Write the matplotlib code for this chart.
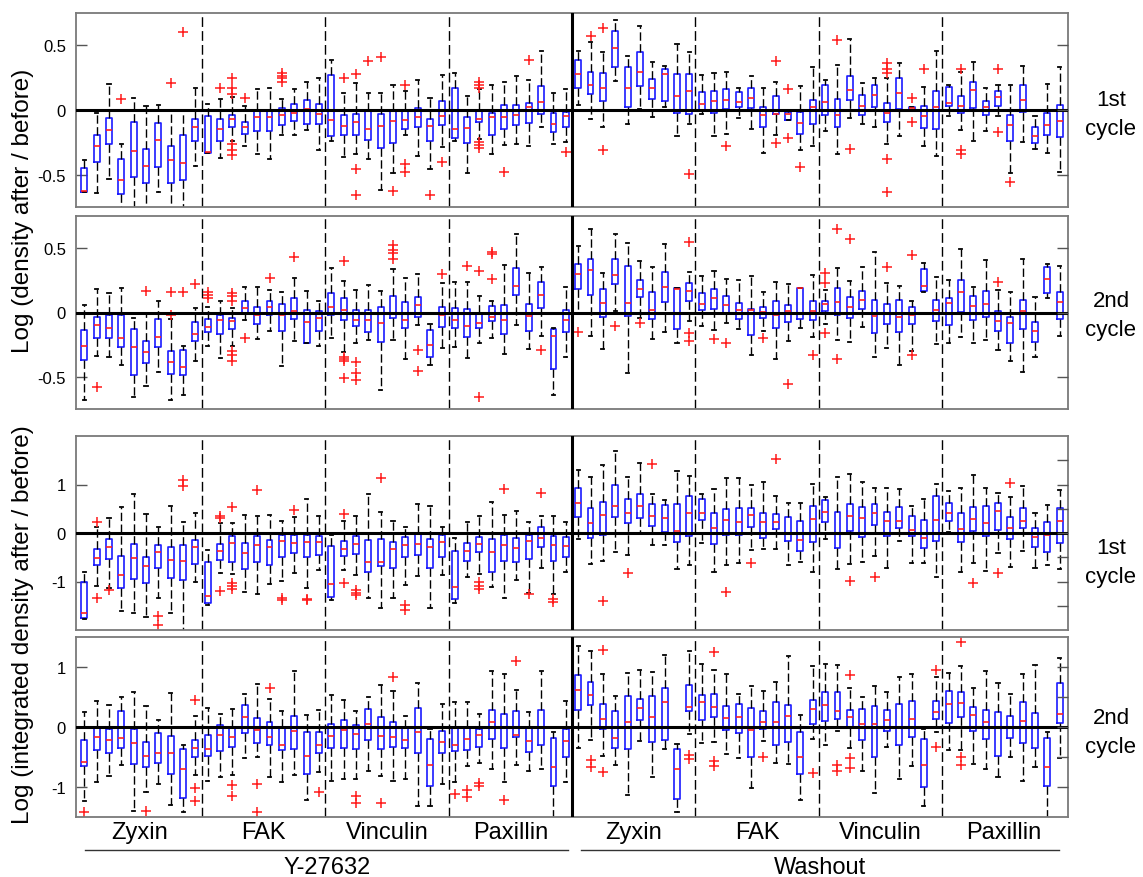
import matplotlib
matplotlib.use("Agg")
import matplotlib.pyplot as plt
import matplotlib.transforms as mtransforms
from matplotlib.lines import Line2D

plt.rcParams['font.family'] = ['Liberation Sans', 'DejaVu Sans']
plt.rcParams['axes.unicode_minus'] = False

# ---------------- data: each panel, 80 boxes (positions 1..80) ----------------
GROUPS = ["Zyxin", "FAK", "Vinculin", "Paxillin"]
CONDITIONS = ["Y-27632", "Washout"]
YLABELS = ["Log (density after / before)", "Log (integrated density after / before)"]
CYCLE_LABELS = ["1st\ncycle", "2nd\ncycle", "1st\ncycle", "2nd\ncycle"]

# Panel 1: density, 1st cycle
P1_WLO = [-0.635, -0.64, -0.53, -0.80, -0.80, -0.78, -0.635, -0.78, -0.78, -0.43,
          -0.33, -0.37, -0.24, -0.28, -0.337, -0.38, -0.19, -0.19, -0.158, -0.31,
          -0.237, -0.36, -0.34, -0.378, -0.615, -0.485, -0.19, -0.355, -0.454, -0.286,
          -0.24, -0.485, -0.224, -0.34, -0.27, -0.265, -0.28, -0.13, -0.265, -0.245,
          0.04, -0.066, -0.128, 0.222, -0.107, 0.01, -0.056, 0.026, -0.204, -0.112,
          -0.03, -0.2, -0.186, -0.059, -0.145, -0.33, -0.19, -0.08, -0.31, -0.28,
          -0.163, -0.34, -0.06, -0.105, -0.135, -0.263, -0.2, -0.005, -0.276, -0.352,
          -0.05, -0.158, -0.24, -0.16, -0.05, -0.485, -0.247, -0.304, -0.33, -0.48]
P1_Q1 = [-0.635, -0.40, -0.263, -0.648, -0.52, -0.566, -0.44, -0.566, -0.54, -0.237,
         -0.33, -0.24, -0.13, -0.186, -0.163, -0.163, -0.117, -0.087, -0.107, -0.11,
         -0.2, -0.19, -0.19, -0.235, -0.29, -0.255, -0.145, -0.135, -0.242, -0.115,
         -0.22, -0.255, -0.094, -0.194, -0.148, -0.117, -0.097, -0.028, -0.168, -0.135,
         0.168, 0.122, 0.066, 0.33, 0.023, 0.186, 0.087, 0.069, -0.026, -0.03,
         0.0, -0.02, 0.01, 0.023, 0.013, -0.133, -0.03, -0.077, -0.186, -0.107,
         -0.038, -0.13, 0.079, -0.036, 0.02, -0.094, 0.008, -0.005, -0.138, -0.145,
         0.033, -0.02, 0.018, -0.036, 0.033, -0.242, -0.015, -0.253, -0.196, -0.207]
P1_MED = [-0.63, -0.28, -0.156, -0.54, -0.314, -0.436, -0.235, -0.385, -0.41, -0.135,
          -0.324, -0.15, -0.07, -0.135, -0.054, -0.054, -0.04, -0.026, 0.01, -0.028,
          -0.08, -0.125, -0.09, -0.145, -0.125, -0.084, -0.08, -0.056, -0.122, -0.046,
          -0.15, -0.143, -0.066, -0.056, -0.054, -0.036, 0.02, 0.061, -0.11, -0.048,
          0.278, 0.191, 0.171, 0.48, 0.168, 0.29, 0.168, 0.278, 0.105, 0.145,
          0.043, 0.066, 0.077, 0.064, 0.089, -0.038, -0.03, -0.03, -0.1, 0.02,
          0.064, -0.04, 0.153, 0.033, 0.115, -0.023, 0.128, 0.018, -0.043, 0.023,
          0.051, 0.033, 0.156, 0.02, 0.1, -0.117, 0.077, -0.2, -0.117, -0.084]
P1_Q3 = [-0.45, -0.19, -0.064, -0.375, -0.094, -0.30, -0.097, -0.28, -0.19, -0.07,
         -0.043, -0.07, -0.036, -0.094, -0.008, -0.01, 0.015, 0.048, 0.074, 0.043,
         0.27, -0.036, -0.028, -0.008, -0.033, -0.008, -0.01, 0.013, -0.07, 0.069,
         0.173, -0.056, -0.01, -0.026, 0.036, 0.036, 0.051, 0.184, -0.023, -0.018,
         0.388, 0.296, 0.286, 0.607, 0.334, 0.449, 0.24, 0.314, 0.278, 0.28,
         0.138, 0.15, 0.163, 0.138, 0.171, 0.02, 0.105, -0.018, -0.018, 0.077,
         0.194, 0.082, 0.265, 0.115, 0.196, 0.054, 0.25, 0.026, 0.028, 0.145,
         0.181, 0.11, 0.217, 0.069, 0.148, -0.04, 0.196, -0.13, -0.026, 0.038]
P1_WHI = [-0.39, -0.026, 0.20, -0.265, 0.094, 0.03, 0.036, 0.0, 0.0, 0.17,
          0.048, 0.087, 0.10, 0.03, 0.166, 0.173, 0.087, 0.16, 0.22, 0.247,
          0.39, 0.13, 0.21, 0.135, 0.135, 0.19, 0.15, 0.23, 0.092, 0.273,
          0.283, 0.107, 0.16, 0.19, 0.22, 0.26, 0.235, 0.46, 0.135, 0.16,
          0.457, 0.528, 0.449, 0.694, 0.42, 0.65, 0.375, 0.342, 0.51, 0.446,
          0.27, 0.288, 0.293, 0.173, 0.26, 0.173, 0.22, 0.0, 0.189, 0.33,
          0.232, 0.347, 0.546, 0.21, 0.247, 0.247, 0.362, 0.026, 0.176, 0.457,
          0.194, 0.293, 0.372, 0.168, 0.19, 0.196, 0.34, -0.048, 0.2, 0.334]
P1_OUT = {4: [0.087], 8: [0.21], 9: [0.60], 12: [0.17],
          13: [0.25, 0.17, 0.12, -0.265, -0.31, -0.35], 14: [0.094],
          17: [0.286, 0.265, 0.247, 0.22], 22: [0.25], 23: [0.28, -0.46, -0.66],
          24: [0.38], 25: [0.406], 26: [-0.63], 27: [0.194, -0.42, -0.48],
          29: [-0.655], 30: [-0.40], 33: [0.22, 0.194, 0.168, -0.245, -0.27, -0.296],
          35: [-0.48], 37: [0.383], 40: [-0.327], 42: [0.574], 43: [0.633, -0.309],
          50: [-0.497], 53: [-0.278], 57: [0.378, -0.255], 58: [0.166, -0.217],
          59: [-0.44], 62: [0.54], 63: [-0.30], 66: [0.367, 0.316, 0.286, -0.38, -0.635],
          68: [0.089, -0.092], 69: [0.319], 72: [0.314, -0.306, -0.34],
          75: [0.319, -0.17], 76: [-0.56]}

# Panel 2: density, 2nd cycle
P2_WLO = [-0.68, -0.337, -0.348, -0.41, -0.657, -0.57, -0.46, -0.68, -0.64, -0.38,
          -0.26, -0.353, -0.26, -0.057, -0.205, -0.143, -0.413, -0.218, -0.236, -0.257,
          -0.197, -0.31, -0.24, -0.21, -0.605, -0.21, -0.363, -0.1, -0.41, -0.278,
          -0.265, -0.35, -0.234, -0.2, -0.32, -0.1, -0.286, -0.18, -0.64, -0.345,
          0.0, -0.184, -0.286, 0.01, -0.467, -0.04, -0.208, -0.148, -0.24, -0.067,
          -0.104, -0.135, -0.078, -0.13, -0.332, -0.14, -0.358, -0.22, -0.122, -0.19,
          -0.093, -0.215, -0.228, -0.112, -0.348, -0.278, -0.405, -0.3, 0.16, -0.244,
          -0.234, -0.187, -0.234, -0.213, -0.29, -0.376, -0.46, -0.348, 0.114, -0.182]
P2_Q1 = [-0.37, -0.195, -0.2, -0.27, -0.488, -0.395, -0.265, -0.478, -0.488, -0.223,
         -0.15, -0.164, -0.125, -0.013, -0.09, -0.023, -0.14, -0.054, -0.236, -0.145,
         -0.023, -0.06, -0.106, -0.15, -0.228, -0.04, -0.12, -0.036, -0.348, -0.109,
         -0.12, -0.187, -0.12, -0.067, -0.164, 0.135, -0.14, 0.036, -0.44, -0.153,
         0.18, 0.138, -0.036, 0.218, -0.03, 0.117, -0.05, 0.078, -0.132, 0.093,
         0.018, 0.031, -0.013, -0.052, -0.171, -0.04, -0.122, -0.075, -0.047, -0.06,
         0.01, -0.023, -0.044, 0.031, -0.156, -0.091, -0.15, -0.093, 0.164, -0.065,
         -0.099, 0.005, -0.057, -0.034, -0.14, -0.24, -0.13, -0.226, 0.15, -0.047]
P2_MED = [-0.26, -0.1, -0.122, -0.2, -0.265, -0.306, -0.19, -0.387, -0.426, -0.164,
          -0.114, -0.057, -0.067, 0.034, -0.02, 0.044, -0.023, 0.013, -0.07, -0.04,
          0.04, 0.016, -0.055, -0.055, -0.078, -0.003, -0.055, 0.06, -0.25, -0.023,
          -0.062, -0.104, -0.08, -0.036, -0.055, 0.205, -0.03, 0.138, -0.18, -0.055,
          0.296, 0.327, 0.07, 0.288, 0.07, 0.184, 0.023, 0.2, 0.185, 0.164,
          0.067, 0.114, 0.055, 0.021, 0.018, 0.003, -0.023, 0.01, 0.19, 0.01,
          0.065, 0.083, 0.044, 0.099, -0.029, -0.003, -0.036, -0.021, 0.205, 0.021,
          0.075, 0.156, 0.052, 0.067, -0.067, -0.08, 0.008, -0.14, 0.262, 0.083]
P2_Q3 = [-0.138, -0.034, -0.023, -0.023, -0.13, -0.22, -0.05, -0.3, -0.293, -0.075,
         -0.047, -0.023, -0.04, 0.088, 0.04, 0.09, 0.067, 0.11, 0.02, 0.008,
         0.148, 0.109, 0.02, 0.02, 0.04, 0.13, 0.078, 0.122, -0.138, 0.044,
         0.036, 0.029, -0.003, 0.047, 0.062, 0.343, 0.067, 0.239, -0.13, 0.023,
         0.38, 0.415, 0.18, 0.413, 0.363, 0.252, 0.158, 0.312, 0.187, 0.228,
         0.153, 0.182, 0.125, 0.075, 0.026, 0.044, 0.09, 0.06, 0.192, 0.088,
         0.088, 0.192, 0.12, 0.169, 0.099, 0.067, 0.096, 0.044, 0.34, 0.101,
         0.114, 0.254, 0.125, 0.164, 0.01, -0.036, 0.099, -0.073, 0.35, 0.158]
P2_WHI = [0.055, 0.18, 0.148, 0.19, -0.04, 0.0, 0.088, -0.05, -0.26, 0.036,
          0.04, 0.088, 0.036, 0.197, 0.2, 0.174, 0.156, 0.27, 0.166, 0.088,
          0.343, 0.247, 0.174, 0.215, 0.169, 0.337, 0.265, 0.296, -0.086, 0.23,
          0.239, 0.234, 0.125, 0.093, 0.366, 0.613, 0.306, 0.353, -0.12, 0.197,
          0.517, 0.646, 0.306, 0.613, 0.543, 0.4, 0.353, 0.532, 0.187, 0.312,
          0.28, 0.322, 0.257, 0.252, 0.286, 0.158, 0.234, 0.223, 0.192, 0.29,
          0.176, 0.348, 0.244, 0.356, 0.472, 0.228, 0.208, 0.093, 0.387, 0.275,
          0.254, 0.493, 0.202, 0.408, 0.177, 0.156, 0.418, 0.122, 0.38, 0.363]
P2_OUT = {2: [-0.58], 6: [0.169], 8: [0.158, -0.02], 9: [0.158], 10: [0.223],
          11: [0.158, 0.135, 0.11], 13: [0.15, 0.125, 0.088, -0.296, -0.327, -0.374],
          14: [-0.2], 16: [0.27], 18: [0.434],
          22: [0.397, -0.343, -0.358, -0.38, -0.51], 23: [-0.384, -0.472, -0.524],
          26: [0.524, 0.488, 0.46, 0.418], 28: [-0.288, -0.457], 30: [0.296],
          32: [0.358], 33: [0.32, -0.66], 34: [0.467, 0.457, 0.257], 38: [-0.288],
          41: [-0.15], 44: [-0.106], 46: [-0.08], 50: [0.545, -0.156, -0.223],
          52: [-0.205], 53: [-0.24], 56: [-0.2], 58: [-0.553], 60: [-0.327],
          61: [0.306, 0.23, -0.16], 62: [0.652, -0.358], 63: [0.574], 66: [0.356],
          68: [0.444, -0.327], 75: [0.236]}

# Panel 3: integrated density, 1st cycle
P3_WLO = [-1.78, -1.095, -1.13, -1.615, -1.65, -1.74, -1.348, -1.65, -2.1, -1.02,
          -1.485, -0.828, -0.849, -1.225, -1.266, -1.06, -0.99, -0.82, -1.143, -0.76,
          -1.376, -0.773, -0.856, -1.335, -1.54, -1.335, -1.08, -0.89, -1.547, -0.862,
          -1.437, -0.91, -0.849, -1.116, -1.342, -0.979, -1.23, -0.719, -1.253, -0.801,
          -0.13, -0.63, -0.582, -0.39, -0.452, -0.02, -0.253, -0.253, -0.739, -0.65,
          -0.2, -0.794, -0.65, -0.623, -0.356, -0.329, -0.329, -0.657, -0.589, -0.794,
          -0.123, -0.732, -0.637, -0.602, -0.472, -0.719, -0.157, -0.609, -0.616, -0.897,
          0.014, -0.808, -0.623, -0.78, -0.41, -0.698, -0.363, -0.725, -0.664, -0.732]
P3_Q1 = [-1.76, -0.664, -0.527, -1.143, -0.951, -1.027, -0.712, -0.938, -0.965, -0.643,
         -1.437, -0.548, -0.602, -0.732, -0.595, -0.65, -0.493, -0.418, -0.493, -0.445,
         -1.314, -0.479, -0.431, -0.794, -0.684, -0.712, -0.5, -0.445, -0.712, -0.493,
         -1.355, -0.568, -0.383, -0.801, -0.582, -0.595, -0.527, -0.287, -0.575, -0.5,
         0.335, -0.096, -0.034, 0.322, 0.205, 0.315, 0.15, 0.02, -0.192, -0.055,
         0.26, -0.233, -0.048, -0.048, 0.116, -0.096, 0.075, -0.157, -0.37, -0.192,
         0.219, -0.3, 0.034, -0.082, 0.157, -0.055, 0.11, -0.062, -0.315, -0.171,
         0.253, -0.178, 0.048, -0.055, 0.062, -0.116, 0.096, -0.28, -0.383, -0.212]
P3_MED = [-1.656, -0.506, -0.287, -0.862, -0.513, -0.684, -0.397, -0.561, -0.575, -0.287,
          -1.3, -0.363, -0.2, -0.418, -0.246, -0.287, -0.164, -0.2, -0.178, -0.178,
          -1.054, -0.329, -0.219, -0.602, -0.589, -0.322, -0.24, -0.219, -0.287, -0.192,
          -1.116, -0.376, -0.219, -0.397, -0.246, -0.301, -0.157, -0.103, -0.253, -0.274,
          0.609, 0.212, 0.376, 0.548, 0.417, 0.561, 0.356, 0.3, 0.048, 0.41,
          0.417, 0.103, 0.267, 0.219, 0.376, 0.226, 0.219, 0.0, -0.144, 0.287,
          0.431, -0.02, 0.349, 0.308, 0.417, 0.246, 0.253, 0.062, -0.11, 0.274,
          0.41, 0.089, 0.28, 0.2, 0.459, 0.11, 0.246, -0.082, -0.034, 0.246]
P3_Q3 = [-1.006, -0.335, -0.116, -0.472, -0.219, -0.486, -0.253, -0.28, -0.253, -0.137,
         -0.595, -0.233, -0.068, -0.205, -0.068, -0.137, -0.041, -0.041, -0.034, -0.055,
         -0.267, -0.164, -0.055, -0.151, -0.116, -0.192, -0.075, -0.02, -0.123, -0.034,
         -0.363, -0.205, -0.075, -0.123, -0.048, -0.103, -0.034, 0.13, -0.062, -0.082,
         0.931, 0.513, 0.63, 0.992, 0.705, 0.8, 0.595, 0.568, 0.602, 0.76,
         0.691, 0.417, 0.5, 0.52, 0.52, 0.41, 0.39, 0.335, 0.246, 0.548,
         0.678, 0.431, 0.595, 0.527, 0.595, 0.424, 0.534, 0.349, 0.267, 0.76,
         0.616, 0.41, 0.54, 0.554, 0.616, 0.335, 0.513, 0.103, 0.226, 0.52]
P3_WHI = [-0.794, 0.13, 0.315, 0.527, 0.814, 0.383, 0.123, 0.561, 0.226, 0.41,
          -0.356, 0.205, 0.205, 0.376, 0.356, 0.363, 0.246, 0.328, 0.705, 0.356,
          -0.034, 0.246, 0.356, 0.814, 0.424, 0.253, 0.12, 0.6, 0.548, 0.123,
          -0.11, 0.226, 0.356, 0.637, 0.363, 0.459, 0.233, 0.342, 0.342, 0.226,
          1.3, 1.164, 1.41, 1.684, 1.15, 1.437, 0.8, 0.684, 1.28, 1.177,
          0.8, 0.91, 1.136, 1.143, 0.986, 1.054, 0.76, 0.623, 0.609, 1.006,
          0.732, 1.157, 1.21, 1.06, 0.938, 0.931, 0.917, 0.554, 0.705, 1.006,
          0.862, 0.931, 1.19, 0.938, 0.828, 0.746, 0.972, 0.417, 0.582, 0.89]
P3_OUT = {2: [0.22, -1.34], 3: [-1.18], 7: [-1.71, -1.9], 9: [1.095, 0.972],
          12: [0.356, 0.3, -1.2], 13: [0.534, -1.03, -1.1, -1.16], 15: [0.883],
          17: [-1.335, -1.38], 18: [0.472], 19: [-1.36, -1.39], 22: [0.397, -1.04],
          23: [-1.18, -1.23, -1.27], 25: [1.13], 27: [-1.485, -1.59],
          33: [-1.013, -1.095, -1.16], 35: [0.917], 37: [-1.266], 38: [0.821],
          39: [-1.355, -1.43], 43: [-1.396], 45: [-0.815], 47: [1.43], 53: [-1.225],
          55: [-0.623], 57: [1.52], 63: [-0.986], 65: [-0.897], 73: [-1.04],
          75: [-0.828], 76: [1.034]}

# Panel 4: integrated density, 2nd cycle
P4_WLO = [-1.228, -0.922, -0.817, -0.633, -1.394, -1.078, -0.956, -1.294, -1.411, -0.8,
          -0.894, -0.828, -0.794, -0.522, -0.506, -0.839, -0.917, -0.8, -1.217, -0.75,
          -0.894, -0.861, -0.872, -0.739, -0.811, -0.894, -0.867, -1.311, -1.311, -0.95,
          -0.922, -0.656, -0.594, -0.694, -0.911, -0.639, -0.728, -0.694, -1.55, -0.922,
          -0.35, -0.211, -0.483, -0.628, -1.139, -0.233, -0.828, -0.367, -1.422, -0.122,
          -0.272, -0.244, -0.45, -0.522, -1.011, -0.228, -0.6, -0.617, -1.217, -0.2,
          -0.294, -0.072, -0.356, -0.739, -1.106, -0.333, -0.867, -0.65, -1.322, -0.089,
          -0.378, -0.378, -0.617, -0.694, -0.839, -0.506, -0.894, -0.672, -1.55, -0.522]
P4_Q1 = [-0.65, -0.383, -0.428, -0.35, -0.617, -0.672, -0.6, -0.783, -1.189, -0.494,
         -0.483, -0.394, -0.328, -0.094, -0.261, -0.3, -0.378, -0.361, -0.778, -0.433,
         -0.344, -0.356, -0.361, -0.217, -0.372, -0.333, -0.344, -0.428, -0.989, -0.439,
         -0.406, -0.389, -0.339, -0.2, -0.35, -0.161, -0.411, -0.3, -0.978, -0.494,
         0.283, 0.372, -0.028, -0.35, -0.367, 0.111, -0.244, -0.217, -1.194, 0.261,
         0.122, 0.167, -0.05, -0.1, -0.5, -0.033, -0.294, -0.25, -0.783, 0.05,
         0.106, 0.128, -0.011, -0.217, -0.5, -0.072, -0.294, -0.161, -0.994, 0.139,
         0.061, 0.161, -0.067, -0.2, -0.478, -0.183, -0.272, -0.356, -0.978, 0.061]
P4_MED = [-0.589, -0.167, -0.211, -0.189, -0.267, -0.489, -0.433, -0.439, -0.694, -0.35,
          -0.372, -0.128, -0.167, 0.167, -0.05, -0.172, -0.294, -0.061, -0.489, -0.294,
          -0.156, -0.05, -0.117, 0.056, -0.144, -0.172, -0.211, -0.078, -0.633, -0.244,
          -0.3, -0.2, -0.139, 0.089, -0.017, -0.13, -0.239, 0.0, -0.661, -0.239,
          0.622, 0.528, 0.128, -0.189, 0.089, 0.311, 0.161, 0.417, -0.694, 0.339,
          0.411, 0.333, 0.15, 0.167, -0.044, 0.083, 0.083, 0.189, -0.494, 0.306,
          0.367, 0.272, 0.172, 0.056, 0.044, 0.117, 0.0, 0.139, -0.639, 0.25,
          0.378, 0.394, 0.194, 0.083, -0.006, -0.017, 0.1, 0.0, -0.661, 0.217]
P4_Q3 = [-0.222, -0.011, -0.028, 0.261, -0.033, -0.256, -0.106, -0.144, -0.361, -0.211,
         -0.128, 0.028, -0.011, 0.372, 0.156, 0.078, -0.006, 0.183, -0.083, -0.083,
         0.05, 0.122, 0.033, 0.294, 0.167, 0.089, -0.011, 0.317, -0.2, -0.061,
         -0.022, -0.017, -0.033, 0.283, 0.217, 0.261, -0.011, 0.278, -0.189, -0.033,
         0.867, 0.756, 0.378, 0.261, 0.511, 0.461, 0.511, 0.644, -0.367, 0.7,
         0.533, 0.556, 0.344, 0.378, 0.317, 0.267, 0.417, 0.367, -0.083, 0.45,
         0.583, 0.583, 0.283, 0.3, 0.344, 0.283, 0.378, 0.439, -0.2, 0.433,
         0.6, 0.583, 0.328, 0.283, 0.256, 0.183, 0.411, 0.233, -0.189, 0.733]
P4_WHI = [0.256, 0.433, 0.372, 0.506, 0.578, 0.344, 0.122, 0.567, -0.3, 0.178,
          0.322, 0.222, 0.294, 0.55, 0.717, 0.467, 0.261, 0.933, 0.194, 0.289,
          0.533, 0.456, 0.272, 0.494, 0.7, 0.606, 0.189, 0.733, -0.039, 0.383,
          0.422, 0.422, 0.217, 0.928, 0.878, 0.617, 0.25, 0.928, -0.083, 0.433,
          1.356, 1.261, 0.878, 0.511, 0.894, 0.95, 0.917, 1.194, -0.28, 1.272,
          1.05, 0.95, 0.883, 0.544, 0.678, 0.594, 0.744, 1.189, 0.2, 1.022,
          1.05, 1.033, 0.644, 0.494, 0.678, 0.589, 0.839, 0.889, -0.039, 0.828,
          0.906, 1.017, 0.656, 0.928, 0.728, 0.544, 0.878, 1.033, -0.078, 1.144]
P4_OUT = {1: [-1.422], 6: [-1.394], 10: [0.45, -1.017, -1.228], 13: [-0.961, -1.156],
          15: [-0.95, -1.422], 16: [0.65], 20: [-1.089], 23: [-1.156, -1.272],
          25: [-1.267], 26: [0.828], 31: [-1.111], 32: [-1.044, -1.161],
          33: [-0.928, -0.983], 35: [-1.211], 36: [1.1], 42: [-0.55, -0.672],
          43: [1.283, -0.756], 50: [-0.461, -0.533], 52: [1.256, -0.561, -0.65],
          56: [-0.506], 60: [-0.767], 62: [-0.639, -0.739], 63: [0.867, -0.511, -0.689],
          70: [0.956, -0.333], 72: [1.417, -0.506, -0.633]}

PANELS = [
    (P1_WLO, P1_Q1, P1_MED, P1_Q3, P1_WHI, P1_OUT),
    (P2_WLO, P2_Q1, P2_MED, P2_Q3, P2_WHI, P2_OUT),
    (P3_WLO, P3_Q1, P3_MED, P3_Q3, P3_WHI, P3_OUT),
    (P4_WLO, P4_Q1, P4_MED, P4_Q3, P4_WHI, P4_OUT),
]
YLIMS = [(-0.75, 0.75), (-0.75, 0.75), (-2.0, 2.0), (-1.5, 1.5)]
LEFT_TICKS = [[-0.5, 0, 0.5], [-0.5, 0, 0.5], [-1, 0, 1], [-1, 0, 1]]
LEFT_TICKLABELS = [["-0.5", "0", "0.5"], ["-0.5", "0", "0.5"], ["-1", "0", "1"], ["-1", "0", "1"]]
RIGHT_TICKS = [[-0.5, 0, 0.5], [-0.5, 0, 0.5], [-1.5, -1, -0.5, 0, 0.5, 1, 1.5],
               [-1, -0.5, 0, 0.5, 1]]

# ---------------- layout ----------------
W, H = 1143, 878
fig = plt.figure(figsize=(W / 100, H / 100), dpi=100)

px_left, px_right = 75.7, 1068
panel_px = [(14, 208), (217, 410), (437, 631), (638, 818)]
XLIM = (0.304, 80.67)
N = 80
positions = list(range(1, N + 1))

SPINE_C = '#7a7a7a'
axes = []
for k, (top, bot) in enumerate(panel_px):
    ax = fig.add_axes([px_left / W, 1 - bot / H, (px_right - px_left) / W, (bot - top) / H])
    wlo, q1, med, q3, whi, out = PANELS[k]
    stats = []
    for i in range(N):
        stats.append(dict(med=med[i], q1=q1[i], q3=q3[i], whislo=wlo[i], whishi=whi[i],
                          fliers=out.get(i + 1, [])))
    ax.bxp(stats, positions=positions, widths=0.48, capwidths=0.25, manage_ticks=False,
           boxprops=dict(color='#1a1aff', lw=1.2),
           medianprops=dict(color='#ff2020', lw=1.2),
           whiskerprops=dict(color='black', lw=1.0, linestyle=(0, (6, 2.5))),
           capprops=dict(color='black', lw=1.3),
           flierprops=dict(marker='+', markeredgecolor='#ff1a1a', markersize=7,
                           markeredgewidth=1.1, linestyle='none'))
    ax.axhline(0, color='black', lw=2.2, zorder=4)
    for xv in [10.5, 20.5, 30.5, 50.5, 60.5, 70.5]:
        ax.axvline(xv, color='black', lw=1.0, ls=(0, (7, 3)), zorder=1)
    ax.axvline(40.5, color='black', lw=2.2, zorder=4)
    ax.set_xlim(*XLIM)
    ax.set_ylim(*YLIMS[k])
    ax.set_xticks([])
    ax.set_yticks(LEFT_TICKS[k])
    ax.set_yticklabels(LEFT_TICKLABELS[k])
    ax.tick_params(axis='y', direction='in', length=8, width=1.0, color='#555555',
                   labelsize=12, pad=7)
    for s in ax.spines.values():
        s.set_color(SPINE_C)
        s.set_linewidth(1.3)
    ax2 = ax.twinx()
    ax2.set_ylim(*YLIMS[k])
    ax2.set_yticks(RIGHT_TICKS[k])
    ax2.tick_params(axis='y', direction='in', length=8, width=1.0, color='#555555',
                    labelright=False)
    for s in ax2.spines.values():
        s.set_visible(False)
    axes.append(ax)

# y-axis labels
fig.text(23 / W, 1 - 211 / H, YLABELS[0], rotation=90, ha='center', va='center', fontsize=17.5)
fig.text(23 / W, 1 - 625 / H, YLABELS[1], rotation=90, ha='center', va='center', fontsize=17.5)

# cycle labels on the right
cycle_y = [115, 316, 563, 733]
for lab, yp in zip(CYCLE_LABELS, cycle_y):
    fig.text(1111 / W, 1 - yp / H, lab, ha='center', va='center', fontsize=16,
             linespacing=1.45)

# bottom group labels
ax4 = axes[-1]
trans = mtransforms.blended_transform_factory(ax4.transData, fig.transFigure)
for c in range(2):
    for g, name in enumerate(GROUPS):
        xc = c * 40 + g * 10 + 5.5
        fig.text(xc, 1 - 833 / H, name, transform=trans, ha='center', va='center',
                 fontsize=17)
underlines = [(1.06, 40.2), (41.2, 79.97)]
for c, (x0, x1) in enumerate(underlines):
    fig.add_artist(Line2D([x0, x1], [1 - 851 / H, 1 - 851 / H], transform=trans,
                          color='#333333', lw=1.0))
    fig.text((x0 + x1) / 2, 1 - 868 / H, CONDITIONS[c], transform=trans,
             ha='center', va='center', fontsize=17)

fig.savefig("out.png", dpi=100)
